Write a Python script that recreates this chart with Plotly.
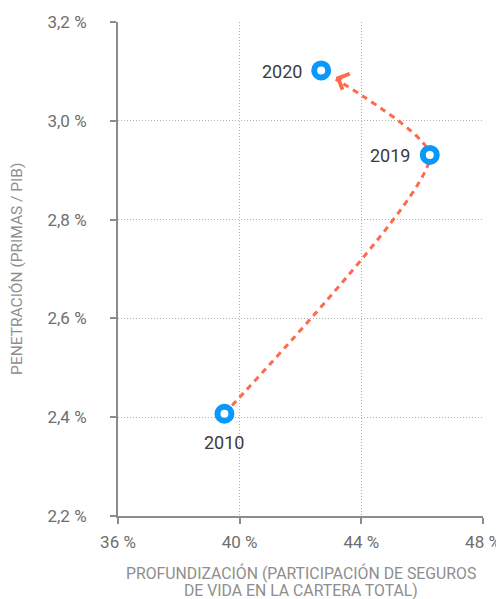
import plotly.graph_objects as go

years = ["2010", "2019", "2020"]
profundizacion = [39.5, 46.25, 42.68]   # % participación seguros de vida
penetracion = [2.407, 2.931, 3.102]     # % primas / PIB

x_ticks = [36, 40, 44, 48]
x_ticktext = ["36 %", "40 %", "44 %", "48 %"]
y_ticks = [2.2, 2.4, 2.6, 2.8, 3.0, 3.2]
y_ticktext = ["2,2 %", "2,4 %", "2,6 %", "2,8 %", "3,0 %", "3,2 %"]
x_title_lines = ["PROFUNDIZACIÓN (PARTICIPACIÓN DE SEGUROS", "DE VIDA EN LA CARTERA TOTAL)"]

BLUE = "#0A98FA"
RED = "#FF6A4C"
GRID = "#B0B0B0"
AXIS = "#8C8C8C"
FONT = "Roboto"

fig = go.Figure()

# dashed curved connector
fig.add_trace(go.Scatter(
    x=profundizacion, y=penetracion, mode="lines",
    line=dict(color=RED, width=3, dash="6px,5px", shape="spline", smoothing=0.55),
    hoverinfo="skip", showlegend=False,
))

# white mask around the 2020 point so the arrowhead floats free of the marker
fig.add_trace(go.Scatter(
    x=[profundizacion[2]], y=[penetracion[2]], mode="markers",
    marker=dict(size=34, color="white", line=dict(width=0)),
    hoverinfo="skip", showlegend=False,
))

# ring markers
fig.add_trace(go.Scatter(
    x=profundizacion, y=penetracion, mode="markers",
    marker=dict(size=14, color="white", line=dict(color=BLUE, width=6)),
    showlegend=False,
))

# year labels
label_offsets = [(0, 29), (-40, 1), (-39, 1)]
for yr, xv, yv, (dx, dy) in zip(years, profundizacion, penetracion, label_offsets):
    fig.add_annotation(
        x=xv, y=yv, xref="x", yref="y", text=yr, showarrow=False,
        xshift=dx, yshift=-dy,
        font=dict(family=FONT, size=18, color="#3C3C3C"),
    )

# arrowhead pointing to 2020
fig.add_annotation(
    x=profundizacion[2], y=penetracion[2], xref="x", yref="y",
    ax=22, ay=10, axref="pixel", ayref="pixel",
    text="", showarrow=True, arrowhead=4, arrowsize=1.4, arrowwidth=2.4,
    arrowcolor=RED, standoff=16, startstandoff=0,
)

# axis titles
for line_text, ypos in zip(x_title_lines, [-0.1154, -0.1498]):
    fig.add_annotation(
        x=0.5, y=ypos, xref="paper", yref="paper", xanchor="center", yanchor="middle",
        text=line_text, showarrow=False,
        font=dict(family=FONT, size=15.8, color="#8E8E8E"),
    )
fig.add_annotation(
    x=-0.277, y=0.5, xref="paper", yref="paper", xanchor="center", yanchor="middle",
    text="PENETRACIÓN (PRIMAS / PIB)", textangle=-90, showarrow=False,
    font=dict(family=FONT, size=15.5, color="#8E8E8E"),
)

fig.update_xaxes(
    range=[36, 48], tickvals=x_ticks, ticktext=x_ticktext,
    showgrid=True, gridcolor=GRID, griddash="1px,2px", gridwidth=1,
    showline=True, linecolor=AXIS, linewidth=2,
    ticks="outside", ticklen=6, tickcolor=AXIS, tickwidth=2,
    tickfont=dict(family=FONT, size=17, color="#6E6E6E"),
    ticklabelstandoff=4,
    zeroline=False, automargin=False,
)
fig.update_yaxes(
    range=[2.2, 3.2], tickvals=y_ticks, ticktext=y_ticktext,
    showgrid=True, gridcolor=GRID, griddash="1px,2px", gridwidth=1,
    showline=True, linecolor=AXIS, linewidth=2,
    ticks="outside", ticklen=6, tickcolor=AXIS, tickwidth=2,
    tickfont=dict(family=FONT, size=17, color="#6E6E6E"),
    ticklabelstandoff=20,
    zeroline=False, automargin=False,
)

fig.update_layout(
    width=496, height=591,
    margin=dict(l=110, r=21, t=14, b=83),
    plot_bgcolor="white", paper_bgcolor="white",
    showlegend=False,
)

fig.write_html("out.html")
